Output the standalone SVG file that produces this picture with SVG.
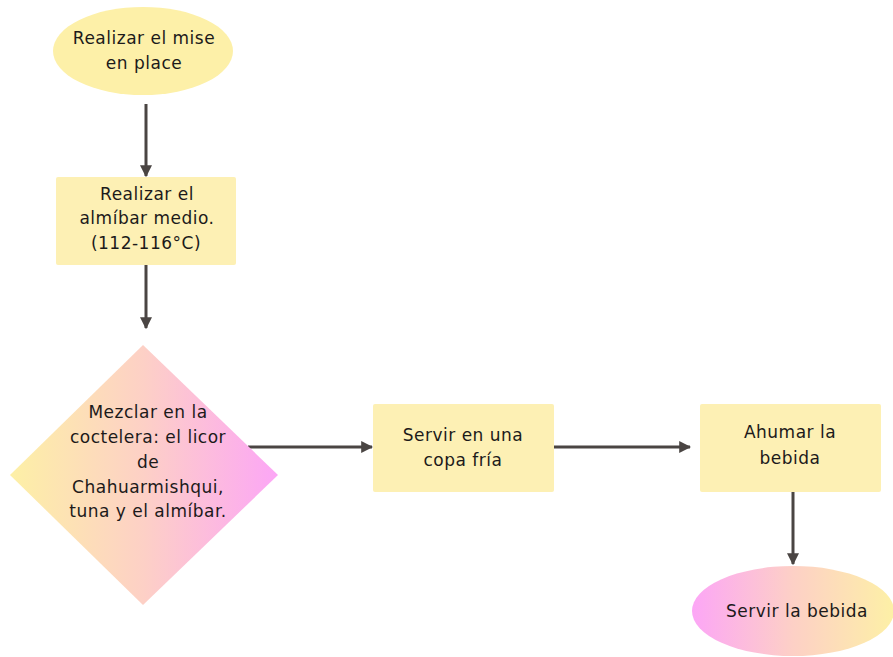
<svg xmlns="http://www.w3.org/2000/svg" width="893" height="657" viewBox="0 0 893 657">
  <style>
    .lbl { font-family: "DejaVu Sans", "Liberation Sans", sans-serif; font-size: 17px; letter-spacing: 0.5px; fill: #1c1a1a; text-anchor: middle; }
    .box { fill: #fdf0b4; }
    .wire { stroke: #4a4543; stroke-width: 3; fill: none; marker-end: url(#tip); }
  </style>
  <defs>
    <marker id="tip" viewBox="0 0 10 10" refX="9" refY="5" markerWidth="4" markerHeight="4" orient="auto" markerUnits="strokeWidth">
      <path d="M0,0 L10,5 L0,10 Z" fill="#4a4543"/>
    </marker>
    <linearGradient id="yellowPink" x1="0" y1="0" x2="1" y2="0">
      <stop offset="0" stop-color="#fdf0a6"/>
      <stop offset="0.5" stop-color="#fdd0c6"/>
      <stop offset="1" stop-color="#fca6f6"/>
    </linearGradient>
    <linearGradient id="pinkYellow" x1="0" y1="0" x2="1" y2="0">
      <stop offset="0" stop-color="#fca6f6"/>
      <stop offset="0.5" stop-color="#fdd0c6"/>
      <stop offset="1" stop-color="#fdf0a6"/>
    </linearGradient>
  </defs>

  <g id="connectors">
    <line class="wire" x1="146" y1="104" x2="146" y2="176"/>
    <line class="wire" x1="146" y1="265" x2="146" y2="328"/>
    <line class="wire" x1="248" y1="447" x2="372" y2="447"/>
    <line class="wire" x1="554" y1="447" x2="690" y2="447"/>
    <line class="wire" x1="793" y1="492" x2="793" y2="564"/>
  </g>

  <g id="mise-en-place">
    <ellipse cx="143" cy="51" rx="90" ry="44" fill="#fdf0a8"/>
    <text class="lbl" x="144" y="44">Realizar el mise</text>
    <text class="lbl" x="144" y="69">en place</text>
  </g>

  <g id="almibar">
    <rect class="box" x="56" y="177" width="180" height="88" rx="2"/>
    <text class="lbl" x="147" y="200">Realizar el</text>
    <text class="lbl" x="147" y="224">almíbar medio.</text>
    <text class="lbl" x="146" y="249">(112-116°C)</text>
  </g>

  <g id="mezclar">
    <polygon points="143,345 278,475 143,605 10,475" fill="url(#yellowPink)"/>
    <text class="lbl" x="148" y="418">Mezclar en la</text>
    <text class="lbl" x="148" y="443">coctelera: el licor</text>
    <text class="lbl" x="148" y="468">de</text>
    <text class="lbl" x="148" y="493">Chahuarmishqui,</text>
    <text class="lbl" x="148" y="517">tuna y el almíbar.</text>
  </g>

  <g id="servir-copa">
    <rect class="box" x="373" y="404" width="181" height="88" rx="2"/>
    <text class="lbl" x="463" y="441">Servir en una</text>
    <text class="lbl" x="463" y="466">copa fría</text>
  </g>

  <g id="ahumar">
    <rect class="box" x="700" y="404" width="181" height="88" rx="2"/>
    <text class="lbl" x="790" y="438">Ahumar la</text>
    <text class="lbl" x="790" y="464">bebida</text>
  </g>

  <g id="servir-bebida">
    <ellipse cx="793" cy="611" rx="101" ry="45" fill="url(#pinkYellow)"/>
    <text class="lbl" x="797" y="617">Servir la bebida</text>
  </g>
</svg>
